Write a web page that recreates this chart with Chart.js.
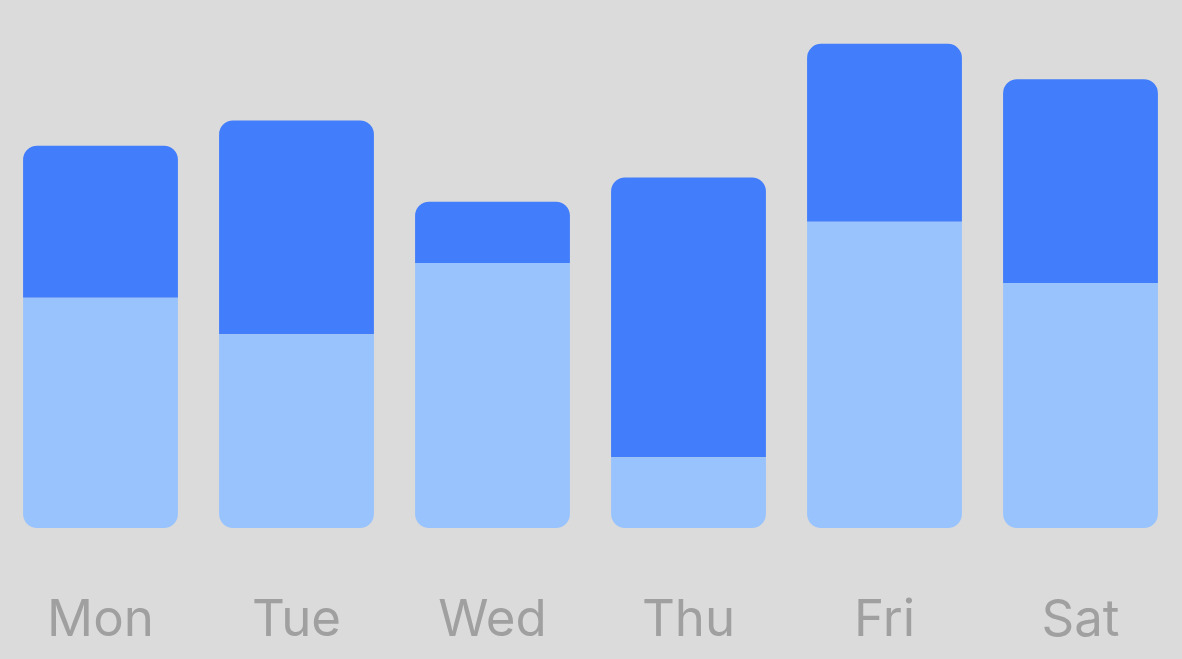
<!DOCTYPE html>
<html>
<head>
<meta charset="utf-8">
<script src="https://cdn.jsdelivr.net/npm/chart.js@4"></script>
<style>
html,body{margin:0;padding:0;background:#dbdbdb;}
#wrap{width:1182px;height:659px;position:relative;}
</style>
</head>
<body>
<div id="wrap"><canvas id="c"></canvas></div>
<script>
const categories = ['Mon','Tue','Wed','Thu','Fri','Sat'];
const lightValues = [43.6, 36.7, 50.2, 13.4, 58.0, 46.4];
const darkValues  = [28.8, 40.5, 11.6, 53.0, 33.7, 38.6];

const R = 14;
new Chart(document.getElementById('c'), {
  type: 'bar',
  data: {
    labels: categories,
    datasets: [
      {
        data: lightValues,
        backgroundColor: '#99c3fd',
        borderWidth: 0,
        borderSkipped: false,
        borderRadius: {topLeft:0, topRight:0, bottomLeft:R, bottomRight:R},
        barPercentage: 1,
        categoryPercentage: 0.79
      },
      {
        data: darkValues,
        backgroundColor: '#427efb',
        borderWidth: 0,
        borderSkipped: false,
        borderRadius: {topLeft:R, topRight:R, bottomLeft:0, bottomRight:0},
        barPercentage: 1,
        categoryPercentage: 0.79
      }
    ]
  },
  options: {
    responsive: true,
    maintainAspectRatio: false,
    animation: false,
    layout: {padding: {left: 2.5, right: 3.5, top: 0, bottom: 0}},
    plugins: {legend: {display: false}, tooltip: {enabled: false}},
    scales: {
      x: {
        stacked: true,
        grid: {display: false},
        border: {display: false},
        ticks: {
          color: '#a0a0a0',
          font: {family: 'Inter, "Helvetica Neue", Arial, sans-serif', size: 51},
          padding: 54,
          maxRotation: 0,
          autoSkip: false
        },
        afterFit: function(s) {
          s.height = 131;
          s.paddingLeft = 0;
          s.paddingRight = 0;
        }
      },
      y: {
        stacked: true,
        display: false,
        min: 0,
        max: 100
      }
    }
  }
});
</script>
</body>
</html>
